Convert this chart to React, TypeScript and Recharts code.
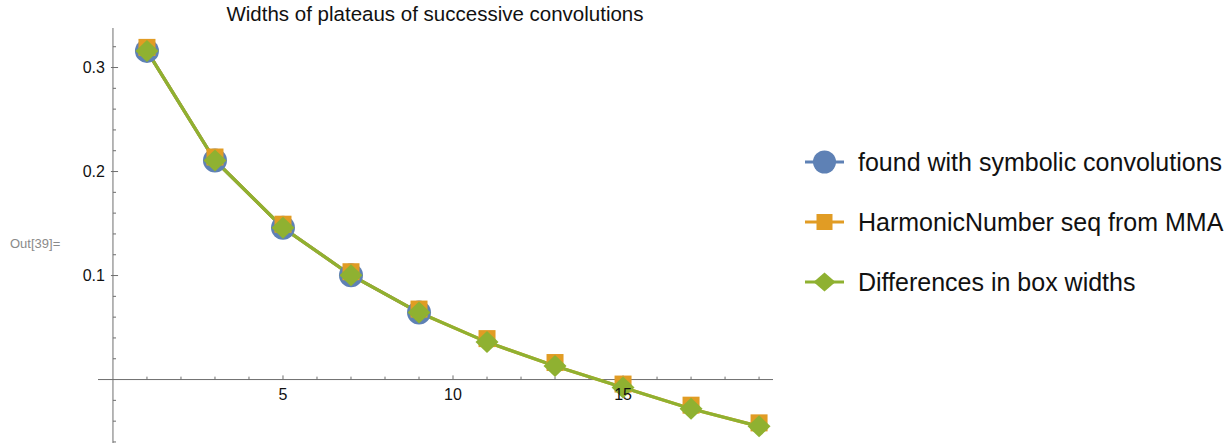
import React from "react";
import { LineChart, Line, XAxis, YAxis, ReferenceLine, ReferenceDot } from "recharts";

// plateau index (odd convolution counts) and measured widths per method
const plateauIndex = [1, 3, 5, 7, 9, 11, 13, 15, 17, 19];
const symbolicWidths = [0.316, 0.2106, 0.146, 0.1003, 0.0644];
const harmonicWidths = [0.316, 0.2106, 0.146, 0.1003, 0.0644, 0.036, 0.013, -0.0077, -0.028, -0.045];
const boxWidthDiffs = [0.316, 0.2106, 0.146, 0.1003, 0.0644, 0.036, 0.013, -0.0077, -0.028, -0.045];

const xTickLabels = [5, 10, 15];
const yTickLabels = [0.1, 0.2, 0.3];
const xMinorTicks = [1, 2, 3, 4, 6, 7, 8, 9, 11, 12, 13, 14, 16, 17, 18, 19];
const yMinorTicks = [-0.06, -0.04, -0.02, 0.02, 0.04, 0.06, 0.08, 0.12, 0.14, 0.16, 0.18, 0.22, 0.24, 0.26, 0.28, 0.32];

const BLUE = "#5E81B5";
const ORANGE = "#E19C24";
const GREEN = "#8FB131";
const AXIS = "#6e6e6e";
const FONT = "'Liberation Sans', Arial, Helvetica, sans-serif";

const data = plateauIndex.map((x, i) => ({
  x,
  symbolic: i < symbolicWidths.length ? symbolicWidths[i] : null,
  harmonic: harmonicWidths[i],
  diff: boxWidthDiffs[i],
}));

const circleDot = (p: any) =>
  p.cy == null ? <g key={`c-${p.index}`} /> : <circle key={`c-${p.index}`} cx={p.cx} cy={p.cy} r={12} fill={BLUE} />;

const squareDot = (p: any) =>
  p.cy == null ? <g key={`s-${p.index}`} /> : (
    <rect key={`s-${p.index}`} x={p.cx - 8.5} y={p.cy - 12} width={17} height={17} fill={ORANGE} />
  );

const diamondDot = (p: any) =>
  p.cy == null ? <g key={`d-${p.index}`} /> : (
    <polygon
      key={`d-${p.index}`}
      points={`${p.cx},${p.cy - 11} ${p.cx + 11.5},${p.cy} ${p.cx},${p.cy + 11} ${p.cx - 11.5},${p.cy}`}
      fill={GREEN}
    />
  );

const legendItems = [
  { name: "found with symbolic convolutions", color: BLUE, shape: "circle" },
  { name: "HarmonicNumber seq from MMA", color: ORANGE, shape: "square" },
  { name: "Differences in box widths", color: GREEN, shape: "diamond" },
];

function LegendMarker({ color, shape }: { color: string; shape: string }) {
  return (
    <svg width={40} height={26} style={{ display: "block" }}>
      <line x1={0} y1={13} x2={39} y2={13} stroke={color} strokeWidth={3} />
      {shape === "circle" && <circle cx={19.5} cy={13} r={11.5} fill={color} />}
      {shape === "square" && <rect x={11.5} y={5} width={16} height={16} fill={color} />}
      {shape === "diamond" && <polygon points="19.5,3.5 30.5,13 19.5,22.5 8.5,13" fill={color} />}
    </svg>
  );
}

export default function App() {
  const textStyle = { fontFamily: FONT, fill: "#111", fontSize: 16 };
  return (
    <div style={{ position: "absolute", left: 0, top: 0, width: 1229, height: 445, background: "#fff", fontFamily: FONT }}>
      <div style={{ position: "absolute", left: 0, width: 870, top: 2, textAlign: "center", fontSize: 20.5, color: "#111" }}>
        Widths of plateaus of successive convolutions
      </div>
      <div style={{ position: "absolute", left: 10, top: 236, fontSize: 13, color: "#8a8a8a" }}>Out[39]=</div>

      <LineChart width={1229} height={445} data={data} margin={{ top: 28, right: 456, bottom: 2, left: 98 }}>
        <XAxis type="number" dataKey="x" domain={[-0.44, 19.41]} hide />
        <YAxis type="number" domain={[-0.061, 0.338]} hide />

        {/* axes crossing at the origin */}
        <ReferenceLine y={0} stroke={AXIS} strokeWidth={1} />
        <ReferenceLine x={0} stroke={AXIS} strokeWidth={1} />
        {xMinorTicks.map((t) => (
          <ReferenceLine key={`xm-${t}`} segment={[{ x: t, y: 0 }, { x: t, y: 0.0028 }]} stroke={AXIS} />
        ))}
        {xTickLabels.map((t) => (
          <ReferenceLine key={`xM-${t}`} segment={[{ x: t, y: 0 }, { x: t, y: 0.004 }]} stroke={AXIS} />
        ))}
        {yMinorTicks.map((t) => (
          <ReferenceLine key={`ym-${t}`} segment={[{ x: 0, y: t }, { x: 0.09, y: t }]} stroke={AXIS} />
        ))}
        {yTickLabels.map((t) => (
          <ReferenceLine key={`yM-${t}`} segment={[{ x: -0.06, y: t }, { x: 0.15, y: t }]} stroke={AXIS} />
        ))}
        {xTickLabels.map((t) => (
          <ReferenceDot
            key={`xl-${t}`}
            x={t}
            y={0}
            r={0}
            stroke="none"
            label={{ value: String(t), position: "bottom", offset: 9, ...textStyle }}
          />
        ))}
        {yTickLabels.map((t) => (
          <ReferenceDot
            key={`yl-${t}`}
            x={0}
            y={t}
            r={0}
            stroke="none"
            label={{ value: String(t), position: "left", offset: 8, ...textStyle }}
          />
        ))}

        <Line dataKey="symbolic" stroke={BLUE} strokeWidth={3.2} dot={circleDot} isAnimationActive={false} />
        <Line dataKey="harmonic" stroke={ORANGE} strokeWidth={3.2} dot={squareDot} isAnimationActive={false} />
        <Line dataKey="diff" stroke={GREEN} strokeWidth={3.2} dot={diamondDot} isAnimationActive={false} />
      </LineChart>

      <div style={{ position: "absolute", left: 805, top: 149 }}>
        {legendItems.map((item) => (
          <div key={item.name} style={{ display: "flex", alignItems: "center", height: 26, marginBottom: 34 }}>
            <LegendMarker color={item.color} shape={item.shape} />
            <span style={{ marginLeft: 13, fontSize: 25, color: "#111", whiteSpace: "nowrap" }}>{item.name}</span>
          </div>
        ))}
      </div>
    </div>
  );
}
